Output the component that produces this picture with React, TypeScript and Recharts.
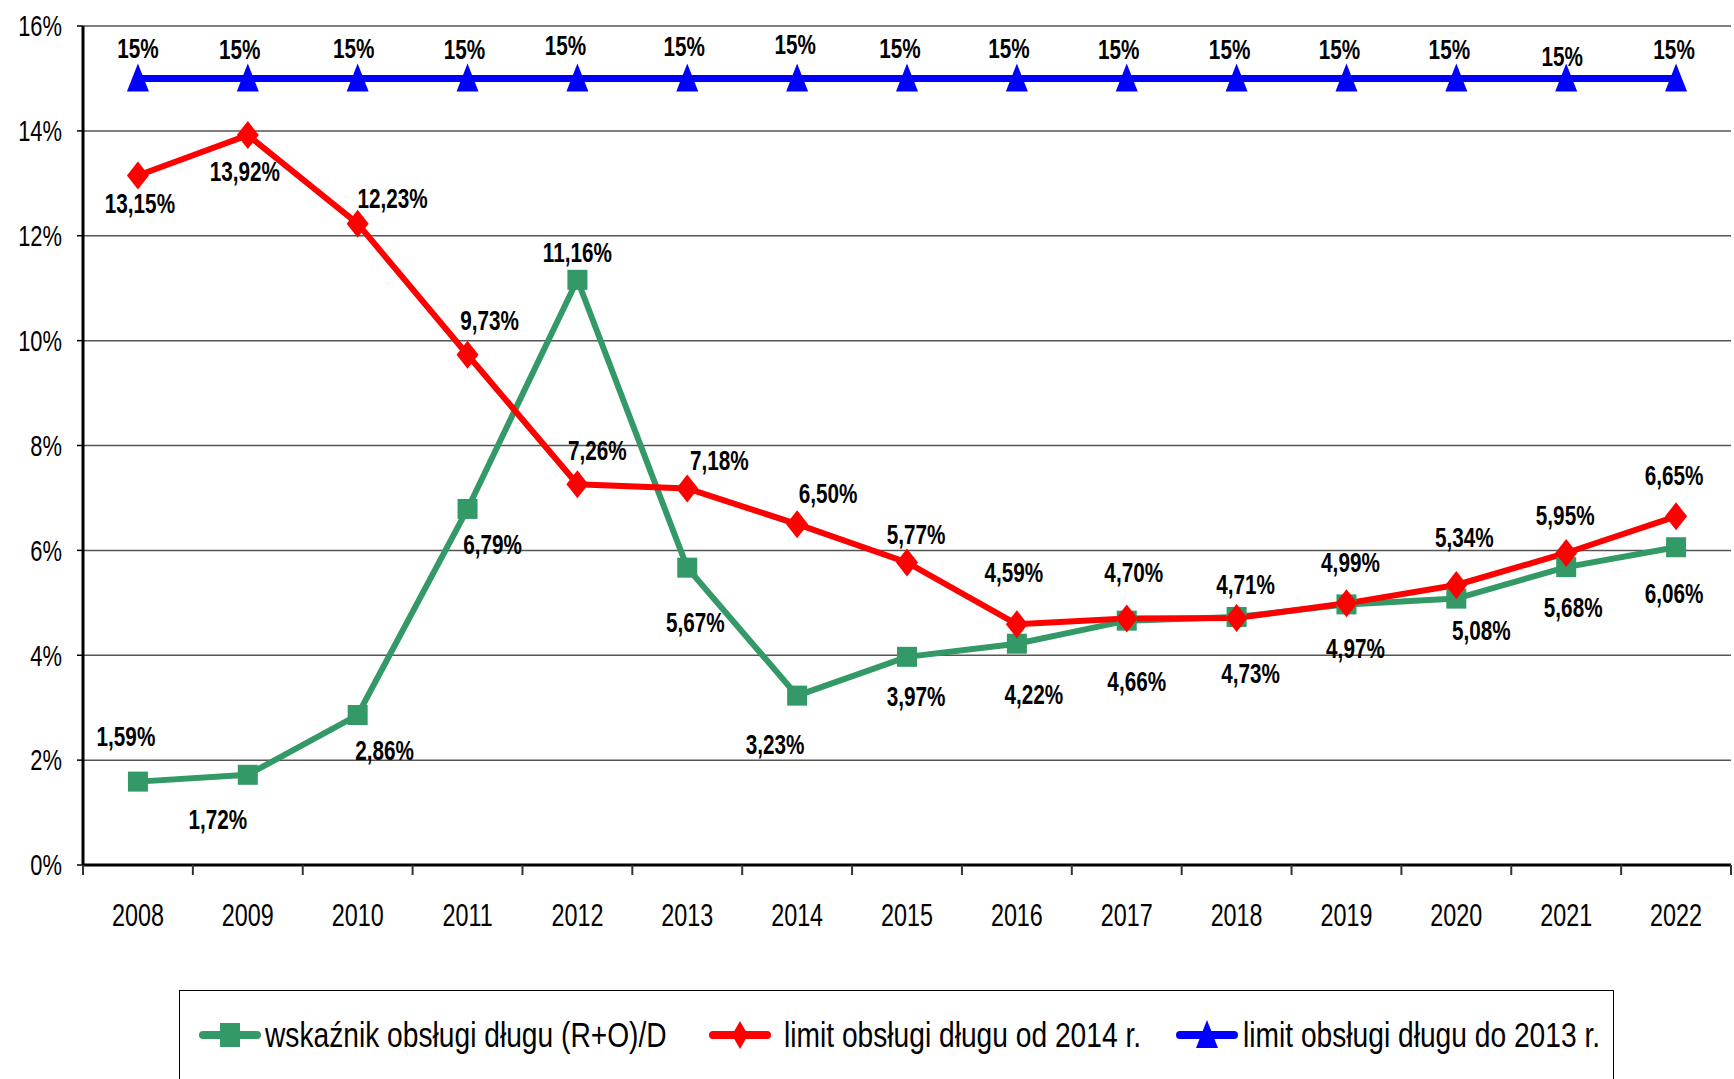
import { LineChart, Line, XAxis, YAxis, CartesianGrid } from 'recharts';

const years = ['2008', '2009', '2010', '2011', '2012', '2013', '2014', '2015', '2016', '2017', '2018', '2019', '2020', '2021', '2022'];
// wskaźnik obsługi długu (R+O)/D
const debtRatio = [1.59, 1.72, 2.86, 6.79, 11.16, 5.67, 3.23, 3.97, 4.22, 4.66, 4.73, 4.97, 5.08, 5.68, 6.06];
// limit obsługi długu od 2014 r.
const limitFrom2014 = [13.15, 13.92, 12.23, 9.73, 7.26, 7.18, 6.5, 5.77, 4.59, 4.7, 4.71, 4.99, 5.34, 5.95, 6.65];
// limit obsługi długu do 2013 r.
const limitTo2013 = [15, 15, 15, 15, 15, 15, 15, 15, 15, 15, 15, 15, 15, 15, 15];
const yTicks = [0, 2, 4, 6, 8, 10, 12, 14, 16];

const data = years.map((year, i) => ({
  year,
  ratio: debtRatio[i],
  limitNew: limitFrom2014[i],
  limitOld: limitTo2013[i],
}));

// label nudges (px), the way the labels sit in the original
const ratioLabelShift: [number, number][] = [
  [-12, -45], [-30, 45], [27, 35], [25, 35], [0, -27], [8, 55], [-22, 49], [9, 40],
  [17, 51], [10, 61], [14, 56], [9, 44], [25, 32], [7, 40], [-2, 46],
];
const limitNewLabelShift: [number, number][] = [
  [2, 28], [-3, 36], [35, -25], [22, -34], [20, -34], [32, -28], [31, -31], [9, -28],
  [-3, -52], [7, -46], [9, -34], [4, -41], [8, -48], [-1, -38], [-2, -41],
];
const limitOldLabelShift: [number, number][] = [
  [0, -30], [-8, -29], [-4, -30], [-3, -29], [-12, -33], [-3, -32], [-2, -34], [-7, -30],
  [-8, -30], [-8, -29], [-7, -29], [-7, -29], [-7, -29], [-4, -22], [-2, -29],
];

const FONT = '"Liberation Sans", Arial, sans-serif';
const GREEN = '#339966';
const RED = '#ff0000';
const BLUE = '#0000ff';

const W = 1734;
const H = 1079;
const PLOT_LEFT = 83;
const PLOT_RIGHT = 3;
const PLOT_TOP = 26;
const X_AXIS_H = 60;
const PLOT_BOTTOM = 154;
const BAND = (W - PLOT_LEFT - PLOT_RIGHT) / years.length;

const fmt = (v: number) => (Number.isInteger(v) ? `${v}%` : `${v.toFixed(2).replace('.', ',')}%`);

// Arial Narrow look: Liberation Sans squeezed horizontally
function NarrowText({ x, y, anchor = 'middle', size, squeeze, bold, children }: any) {
  return (
    <text
      transform={`translate(${x},${y}) scale(${squeeze},1)`}
      x={0}
      y={0}
      textAnchor={anchor}
      dominantBaseline="central"
      fontFamily={FONT}
      fontWeight={bold ? 'bold' : 'normal'}
      fontSize={size}
      fill="#000"
    >
      {children}
    </text>
  );
}

const makeLabel = (shift: [number, number][]) => (props: any) => {
  const { x, y, index, value } = props;
  const [dx, dy] = shift[index] || [0, -25];
  return (
    <NarrowText key={`l-${index}`} x={x + dx} y={y + dy} size={28} squeeze={0.74} bold>
      {fmt(value)}
    </NarrowText>
  );
};

const squareDot = (p: any) => (
  <rect key={`s-${p.index}`} x={p.cx - 10} y={p.cy - 10} width={20} height={20} fill={GREEN} />
);
const diamondDot = (p: any) => (
  <polygon
    key={`d-${p.index}`}
    points={`${p.cx},${p.cy - 14} ${p.cx + 11},${p.cy} ${p.cx},${p.cy + 14} ${p.cx - 11},${p.cy}`}
    fill={RED}
  />
);
const triangleDot = (p: any) => (
  <polygon
    key={`t-${p.index}`}
    points={`${p.cx},${p.cy - 15} ${p.cx + 11},${p.cy + 13} ${p.cx - 11},${p.cy + 13}`}
    fill={BLUE}
  />
);

function YearTick(props: any) {
  const { x, y, payload, index } = props;
  const half = BAND / 2;
  return (
    <g>
      <line x1={x - half} x2={x - half} y1={y - 10} y2={y} stroke="#333" strokeWidth={2} />
      {index === years.length - 1 && (
        <line x1={x + half} x2={x + half} y1={y - 10} y2={y} stroke="#333" strokeWidth={2} />
      )}
      <NarrowText x={x} y={y + 40} size={32} squeeze={0.73}>
        {payload.value}
      </NarrowText>
    </g>
  );
}

function PercentTick(props: any) {
  const { x, y, payload } = props;
  return (
    <NarrowText x={x} y={y} anchor="end" size={30} squeeze={0.73}>
      {`${payload.value}%`}
    </NarrowText>
  );
}

const legendItems = [
  { name: 'wskaźnik obsługi długu (R+O)/D', color: GREEN, marker: 'square', left: 19, gap: 4 },
  { name: 'limit obsługi długu od 2014 r.', color: RED, marker: 'diamond', left: 529, gap: 13 },
  { name: 'limit obsługi długu do 2013 r.', color: BLUE, marker: 'triangle', left: 996, gap: 5 },
];

function LegendMarker({ color, marker }: { color: string; marker: string }) {
  const c = 31;
  const m = 20;
  return (
    <svg width={62} height={40} style={{ display: 'block' }}>
      <line x1={4} x2={58} y1={m} y2={m} stroke={color} strokeWidth={8} strokeLinecap="round" />
      {marker === 'square' && <rect x={c - 10} y={m - 12} width={20} height={24} fill={color} />}
      {marker === 'diamond' && (
        <polygon points={`${c},${m - 14} ${c + 8},${m} ${c},${m + 14} ${c - 8},${m}`} fill={color} />
      )}
      {marker === 'triangle' && (
        <polygon points={`${c},${m - 15} ${c + 11},${m + 13} ${c - 11},${m + 13}`} fill={color} />
      )}
    </svg>
  );
}

export default function App() {
  return (
    <div style={{ position: 'absolute', left: 0, top: 0, width: W, height: H, background: '#fff', overflow: 'hidden' }}>
      <LineChart width={W} height={H} data={data} margin={{ top: PLOT_TOP, right: PLOT_RIGHT, left: 0, bottom: PLOT_BOTTOM }}>
        <CartesianGrid vertical={false} stroke="#555" strokeWidth={1.5} />
        <XAxis
          dataKey="year"
          height={X_AXIS_H}
          padding={{ left: BAND / 2, right: BAND / 2 }}
          axisLine={{ stroke: '#000', strokeWidth: 3 }}
          tickLine={false}
          tickSize={10}
          tickMargin={0}
          interval={0}
          tick={<YearTick />}
        />
        <XAxis
          xAxisId="top"
          dataKey="year"
          orientation="top"
          height={0}
          tick={false}
          tickLine={false}
          axisLine={{ stroke: '#000', strokeWidth: 2.5 }}
        />
        <YAxis
          width={PLOT_LEFT}
          domain={[0, 16]}
          ticks={yTicks}
          axisLine={{ stroke: '#000', strokeWidth: 3 }}
          tickLine={{ stroke: '#000', strokeWidth: 1.5 }}
          tickSize={6}
          tickMargin={15}
          tick={<PercentTick />}
        />
        <YAxis
          yAxisId="right"
          orientation="right"
          width={0}
          domain={[0, 16]}
          ticks={yTicks}
          tick={false}
          tickLine={false}
          axisLine={{ stroke: '#000', strokeWidth: 2 }}
        />
        <Line
          dataKey="ratio"
          stroke={GREEN}
          strokeWidth={6}
          dot={squareDot}
          activeDot={false}
          label={makeLabel(ratioLabelShift)}
          isAnimationActive={false}
        />
        <Line
          dataKey="limitNew"
          stroke={RED}
          strokeWidth={6}
          dot={diamondDot}
          activeDot={false}
          label={makeLabel(limitNewLabelShift)}
          isAnimationActive={false}
        />
        <Line
          dataKey="limitOld"
          stroke={BLUE}
          strokeWidth={7}
          dot={triangleDot}
          activeDot={false}
          label={makeLabel(limitOldLabelShift)}
          isAnimationActive={false}
        />
      </LineChart>
      <div
        style={{
          position: 'absolute',
          left: 179,
          top: 990,
          width: 1435,
          height: 110,
          border: '1.5px solid #000',
          boxSizing: 'border-box',
          background: '#fff',
        }}
      >
        {legendItems.map((it) => (
          <div
            key={it.name}
            style={{ position: 'absolute', left: it.left, top: 24, display: 'flex', alignItems: 'center', whiteSpace: 'nowrap' }}
          >
            <LegendMarker color={it.color} marker={it.marker} />
            <span
              style={{
                display: 'inline-block',
                fontFamily: FONT,
                fontSize: 35,
                color: '#000',
                marginLeft: it.gap,
                lineHeight: '40px',
                transform: 'scaleX(0.805)',
                transformOrigin: 'left center',
              }}
            >
              {it.name}
            </span>
          </div>
        ))}
      </div>
    </div>
  );
}
